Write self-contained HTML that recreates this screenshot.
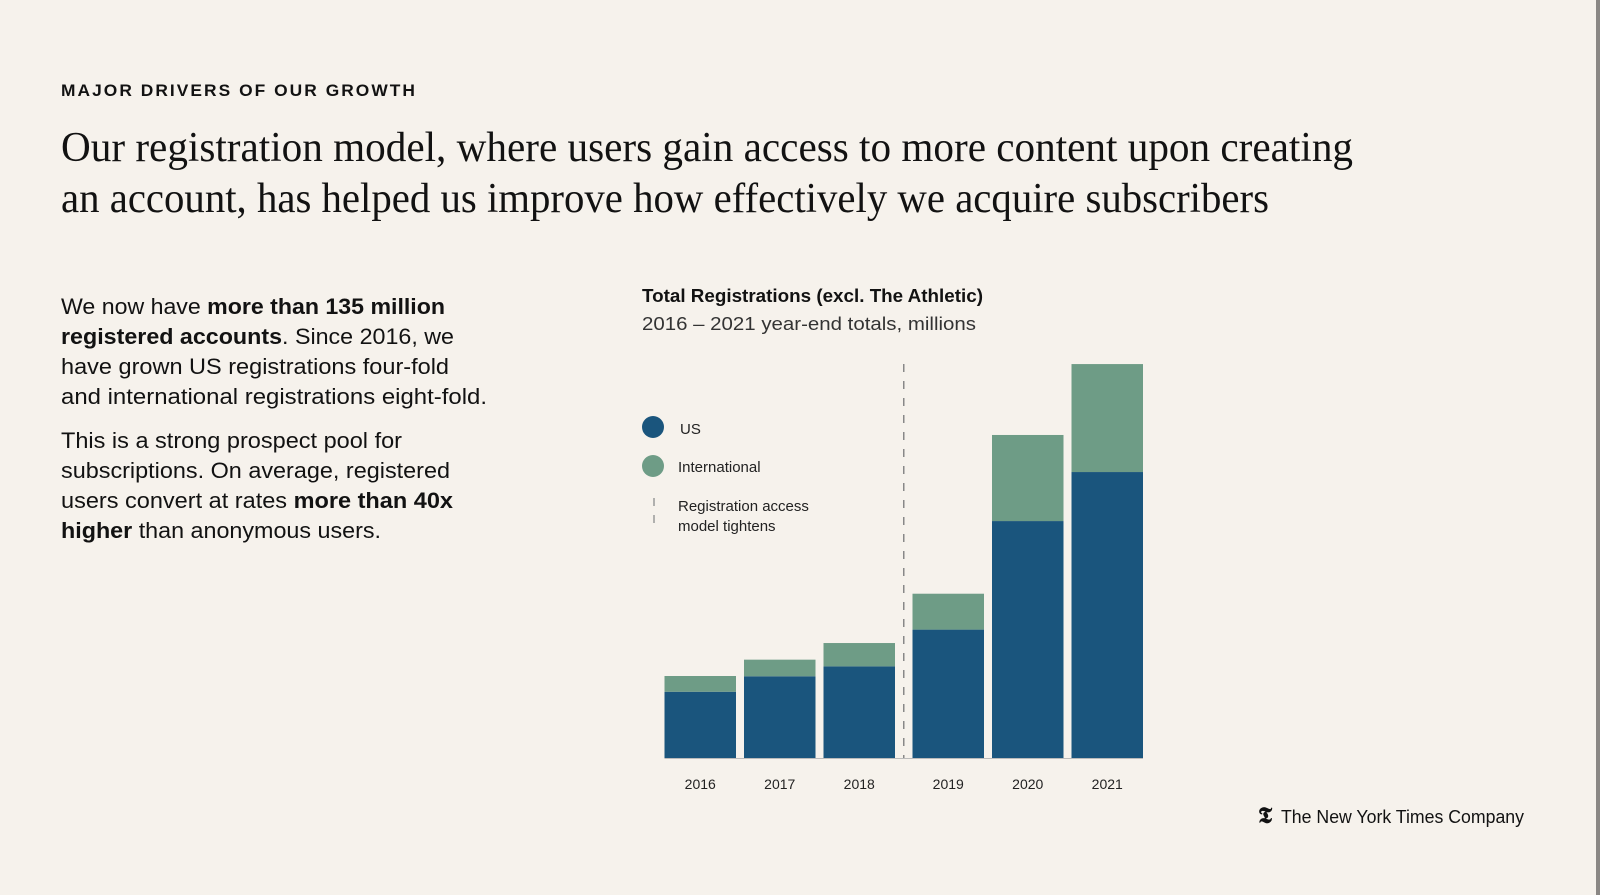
<!DOCTYPE html>
<html><head><meta charset="utf-8"><style>
html,body{margin:0;padding:0;background:#f6f2ec;}
svg{display:block;font-family:"Liberation Sans",sans-serif;}
</style></head><body>
<svg id="page" width="1600" height="895" viewBox="0 0 1600 895" xmlns="http://www.w3.org/2000/svg">
<rect width="1600" height="895" fill="#f6f2ec"/>
<rect x="1596" y="0" width="4" height="895" fill="#8a8784"/>
<text x="61" y="96" font-size="17" font-weight="bold" letter-spacing="2" fill="#121212" textLength="356" lengthAdjust="spacingAndGlyphs">MAJOR DRIVERS OF OUR GROWTH</text>
<g font-family="'Liberation Serif',serif" font-size="42" fill="#121212">
<text x="61" y="161" textLength="1292" lengthAdjust="spacingAndGlyphs">Our registration model, where users gain access to more content upon creating</text>
<text x="61" y="212" textLength="1208" lengthAdjust="spacingAndGlyphs">an account, has helped us improve how effectively we acquire subscribers</text>
</g>
<g font-size="22" fill="#121212">
<text x="61" y="314" textLength="384" lengthAdjust="spacingAndGlyphs">We now have <tspan font-weight="bold">more than 135 million</tspan></text>
<text x="61" y="344" textLength="393" lengthAdjust="spacingAndGlyphs"><tspan font-weight="bold">registered accounts</tspan>. Since 2016, we</text>
<text x="61" y="374" textLength="388" lengthAdjust="spacingAndGlyphs">have grown US registrations four-fold</text>
<text x="61" y="404" textLength="426" lengthAdjust="spacingAndGlyphs">and international registrations eight-fold.</text>
<text x="61" y="448" textLength="341" lengthAdjust="spacingAndGlyphs">This is a strong prospect pool for</text>
<text x="61" y="478" textLength="389" lengthAdjust="spacingAndGlyphs">subscriptions. On average, registered</text>
<text x="61" y="508" textLength="392" lengthAdjust="spacingAndGlyphs">users convert at rates <tspan font-weight="bold">more than 40x</tspan></text>
<text x="61" y="538" textLength="320" lengthAdjust="spacingAndGlyphs"><tspan font-weight="bold">higher</tspan> than anonymous users.</text>
</g>
<text x="642" y="302" font-size="18" font-weight="bold" fill="#121212" textLength="341" lengthAdjust="spacingAndGlyphs">Total Registrations (excl. The Athletic)</text>
<text x="642" y="330" font-size="18" fill="#333" textLength="334" lengthAdjust="spacingAndGlyphs">2016 – 2021 year-end totals, millions</text>
<g id="legend" font-size="15" fill="#222">
<circle cx="653" cy="427" r="11" fill="#1a557d"/>
<text x="680" y="434">US</text>
<circle cx="653" cy="466" r="11" fill="#6e9c86"/>
<text x="678" y="472">International</text>
<line x1="654" y1="498" x2="654" y2="528" stroke="#999" stroke-width="1.5" stroke-dasharray="8,9"/>
<text x="678" y="511">Registration access</text>
<text x="678" y="531">model tightens</text>
</g>
<g id="chart"></g>
<g>
<text x="1258" y="823" font-family="'Liberation Serif',serif" font-size="23" font-weight="bold" fill="#121212">𝕿</text>
<text x="1281" y="823" font-size="18" fill="#121212" textLength="243" lengthAdjust="spacingAndGlyphs">The New York Times Company</text>
</g>
</svg>
<script>
const years = ["2016","2017","2018","2019","2020","2021"];
const usValues = [22.7, 28.0, 31.4, 44.0, 81.2, 98.0];
const intlValues = [5.4, 5.7, 8.0, 12.3, 29.5, 37.0];
const tighteningAfterIndex = 2;

const NS = "http://www.w3.org/2000/svg";
const chart = document.getElementById("chart");
const baseY = 758, pxPerM = 2.918;
const barW = 71.5;
const barLeft = [664.5, 744, 823.5, 912.5, 992, 1071.5];
function yScale(v){ return baseY - v * pxPerM; }
function xScale(i){ return barLeft[i]; }
function mk(tag, attrs){ const e = document.createElementNS(NS, tag); for (const k in attrs) e.setAttribute(k, attrs[k]); chart.appendChild(e); return e; }

years.forEach((yr, i) => {
  const x = xScale(i);
  const usTop = yScale(usValues[i]);
  const totTop = yScale(usValues[i] + intlValues[i]);
  const us = mk("rect", {x: x, y: usTop, width: barW, height: baseY - usTop, fill: "#1a557d"});
  
  
  const intl = mk("rect", {x: x, y: totTop, width: barW, height: usTop - totTop, fill: "#6e9c86"});
  
  
  const t = mk("text", {x: x + barW / 2, y: 789, "text-anchor": "middle", "font-size": "14", fill: "#222"});
  t.textContent = yr;
  
  
});
const axis = mk("line", {x1: barLeft[0], x2: barLeft[5] + barW, y1: baseY + 0.5, y2: baseY + 0.5, stroke: "#bbb", "stroke-width": 1});


const dx = (xScale(tighteningAfterIndex) + barW + xScale(tighteningAfterIndex + 1)) / 2;
const dash = mk("line", {x1: dx, x2: dx, y1: 364, y2: baseY, stroke: "#888", "stroke-width": 1.5, "stroke-dasharray": "8,9"});


</script>
</body></html>
